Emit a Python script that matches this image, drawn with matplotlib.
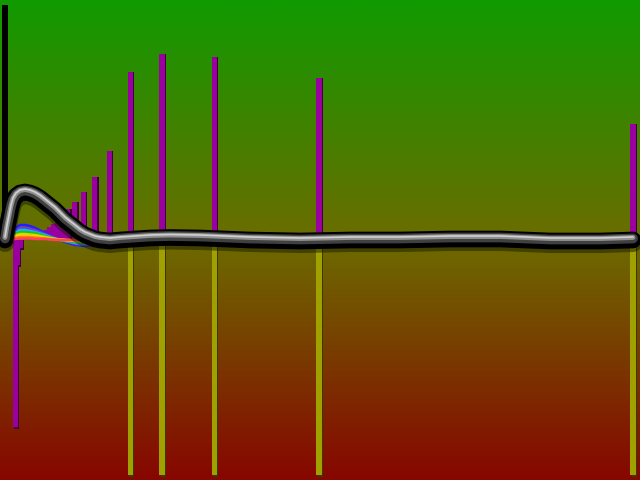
import numpy as np
import matplotlib
matplotlib.use("Agg")
import matplotlib.pyplot as plt
from matplotlib.colors import LinearSegmentedColormap

# -----------------------
# Data (x in 0..1, y in units of the baseline)
# -----------------------
# purple bars standing up at x = 1/n
up_x = [1.0, 0.5, 0.333, 0.25, 0.2, 0.1667, 0.1429, 0.125, 0.1111, 0.1, 0.0909,
        0.0833, 0.0769, 0.0714, 0.0667, 0.0625, 0.0588, 0.0556, 0.0526, 0.05]
up_h = [1.16, 1.62, 1.83, 1.86, 1.68, 0.89, 0.63, 0.48, 0.38, 0.31, 0.25,
        0.20, 0.16, 0.13, 0.10, 0.08, 0.06, 0.05, 0.04, 0.03]

# purple bars hanging down near zero
down_x = [0.016, 0.020, 0.024]
down_h = [-1.87, -0.25, -0.08]

# yellow bars hanging down
yel_x = [1.0, 0.5, 0.333, 0.25, 0.2]
yel_h = [-2.30, -2.30, -2.30, -2.30, -2.30]

# black bar at the origin
blk_x = [0.0]
blk_h = [2.35]

# main curve
curve_x = [0.0, 0.0032, 0.0064, 0.0096, 0.0127, 0.0175, 0.0239, 0.0318, 0.0398,
           0.0478, 0.0557, 0.0637, 0.0717, 0.0796, 0.0876, 0.0955, 0.1035,
           0.1115, 0.1194, 0.1274, 0.1354, 0.1433, 0.1513, 0.1672, 0.1831,
           0.207, 0.231, 0.263, 0.311, 0.390, 0.470, 0.550, 0.629, 0.709,
           0.789, 0.868, 0.948, 1.0]
curve_y = [0.0, 0.12, 0.22, 0.32, 0.39, 0.44, 0.47, 0.48, 0.47,
           0.45, 0.42, 0.38, 0.34, 0.30, 0.25, 0.20, 0.16,
           0.12, 0.08, 0.05, 0.03, 0.01, 0.0, -0.01, 0.0,
           0.01, 0.02, 0.025, 0.02, 0.0, -0.01, 0.0, 0.0, 0.01,
           0.01, -0.01, -0.01, 0.0]

# family of thin coloured curves
fam_x = [0.008, 0.012, 0.016, 0.024, 0.032, 0.040, 0.048, 0.064, 0.080, 0.096,
         0.112, 0.128, 0.144, 0.160, 0.175]
fam = {
    "#2020ff": [0.0, 0.08, 0.12, 0.15, 0.15, 0.14, 0.12, 0.07, 0.02, -0.02, -0.05, -0.06, -0.05, -0.03, 0.0],
    "#8030e0": [0.0, 0.06, 0.09, 0.12, 0.12, 0.11, 0.10, 0.06, 0.02, -0.01, -0.04, -0.05, -0.04, -0.02, 0.0],
    "#00c0ff": [0.0, 0.05, 0.07, 0.10, 0.10, 0.09, 0.08, 0.05, 0.01, -0.01, -0.03, -0.04, -0.03, -0.02, 0.0],
    "#20c020": [0.0, 0.04, 0.06, 0.08, 0.08, 0.075, 0.07, 0.04, 0.01, -0.01, -0.02, -0.03, -0.02, -0.01, 0.0],
    "#c0e000": [0.0, 0.03, 0.045, 0.06, 0.06, 0.055, 0.05, 0.03, 0.01, 0.0, -0.01, -0.02, -0.01, 0.0, 0.0],
    "#ffd000": [0.0, 0.02, 0.03, 0.045, 0.045, 0.04, 0.04, 0.02, 0.01, 0.0, -0.01, -0.01, 0.0, 0.0, 0.0],
    "#ff8000": [0.0, 0.01, 0.02, 0.03, 0.03, 0.03, 0.025, 0.015, 0.005, 0.0, 0.0, 0.0, 0.0, 0.0, 0.0],
    "#ff4060": [0.0, 0.005, 0.01, 0.015, 0.015, 0.015, 0.01, 0.01, 0.0, 0.0, 0.0, 0.0, 0.0, 0.0, 0.0],
}

# -----------------------
# Figure
# -----------------------
fig = plt.figure(figsize=(6.4, 4.8), dpi=100)
ax = fig.add_axes([0, 0, 1, 1])
x0, x1 = -5 / 628, 635 / 628
y0, y1 = -2.4, 2.4
ax.set_xlim(x0, x1)
ax.set_ylim(y0, y1)
ax.axis("off")

# background gradient
bg = LinearSegmentedColormap.from_list(
    "bg", [(0.0, "#870600"), (0.5, "#6c6c00"), (1.0, "#109a00")])
grad = np.linspace(0, 1, 256).reshape(-1, 1)
ax.imshow(grad, cmap=bg, origin="lower", aspect="auto",
          extent=[x0, x1, y0, y1], zorder=0)

w = 0.008
sh = 0.002
# shadows then bars
ax.bar(np.array(yel_x) + sh, np.array(yel_h) - 0.02, width=w, bottom=-0.05,
       color="#3a3a00", zorder=1)
ax.bar(yel_x, yel_h, width=w, bottom=-0.05, color="#a0a000", zorder=2)
ax.bar(np.array(up_x) + sh, up_h, width=w, color="#400040", zorder=1)
ax.bar(up_x, up_h, width=w, color="#9a00a0", zorder=2)
ax.bar(np.array(down_x) + sh, np.array(down_h) - 0.02, width=w, color="#400040", zorder=1)
ax.bar(down_x, down_h, width=w, color="#9a00a0", zorder=2)
ax.bar(blk_x, blk_h, width=w, color="#000000", zorder=2)

for c, ys in fam.items():
    ax.plot(fam_x, ys, color=c, lw=1.8, zorder=3)

# tube-like main curve
ax.plot(curve_x, np.array(curve_y) - 0.03, color="#1a1a00", lw=13, alpha=0.5,
        solid_capstyle="round", zorder=4)
ax.plot(curve_x, curve_y, color="#000000", lw=12, solid_capstyle="round", zorder=5)
ax.plot(curve_x, np.array(curve_y) + 0.015, color="#404040", lw=7,
        solid_capstyle="round", zorder=6)
ax.plot(curve_x, np.array(curve_y) + 0.025, color="#909090", lw=3.5,
        solid_capstyle="round", zorder=7)
ax.plot(curve_x, np.array(curve_y) + 0.03, color="#d0d0d0", lw=1.2,
        solid_capstyle="round", zorder=8)

fig.savefig("out.png", dpi=100)
